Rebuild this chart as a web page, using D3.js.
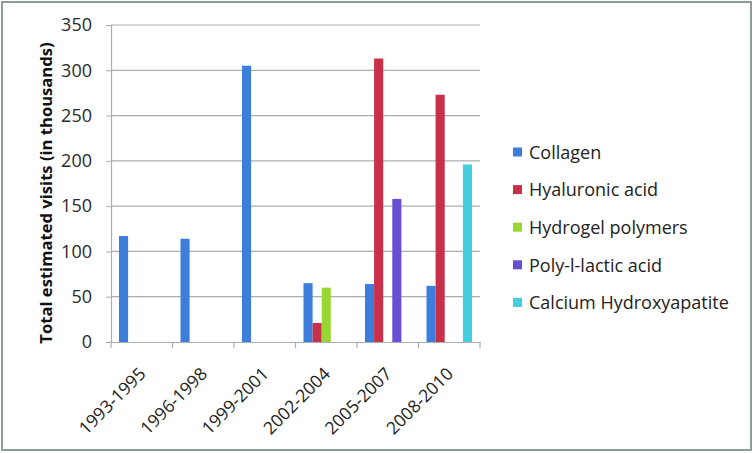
<!DOCTYPE html>
<html>
<head>
<meta charset="utf-8">
<script src="https://cdn.jsdelivr.net/npm/d3@7"></script>
<style>
  body { margin: 0; background: #fff; }
  svg { display: block; font-family: "Open Sans", "Noto Sans", sans-serif; }
</style>
</head>
<body>
<svg id="chart" width="753" height="453"></svg>
<script>
// Filler visits by period, Excel-style grouped bars
const periods = ["1993-1995", "1996-1998", "1999-2001", "2002-2004", "2005-2007", "2008-2010"];
const seriesNames = ["Collagen", "Hyaluronic acid", "Hydrogel polymers", "Poly-l-lactic acid", "Calcium Hydroxyapatite"];
const collagen = [117, 114, 305, 65, 64, 62];
const hyaluronic = [0, 0, 0, 21, 313, 273];
const hydrogel = [0, 0, 0, 60, 0, 0];
const polyLactic = [0, 0, 0, 0, 158, 0];
const calcium = [0, 0, 0, 0, 0, 196];
const yTicks = [0, 50, 100, 150, 200, 250, 300, 350];

const seriesValues = [collagen, hyaluronic, hydrogel, polyLactic, calcium];
const colors = ["#3d7edc", "#c8304a", "#98d633", "#6a4fd4", "#45cedd"];

const svg = d3.select("#chart");

// outer frame
svg.append("rect")
  .attr("x", 2).attr("y", 2).attr("width", 749).attr("height", 448)
  .attr("fill", "none").attr("stroke", "#8e9c9c").attr("stroke-width", 2);

const plot = { left: 111, top: 25, right: 480, bottom: 342 };

const x0 = d3.scaleBand().domain(periods).range([plot.left, plot.right]).paddingInner(0).paddingOuter(0);
const x1 = d3.scaleBand().domain(seriesNames).range([8, x0.bandwidth() - 8]);
const y = d3.scaleLinear().domain([0, 350]).range([plot.bottom, plot.top]);

// grid lines
svg.append("g")
  .selectAll("line")
  .data(yTicks.slice(1))
  .join("line")
  .attr("x1", plot.left).attr("x2", plot.right)
  .attr("y1", d => y(d)).attr("y2", d => y(d))
  .attr("stroke", "#a9afaf").attr("stroke-width", 1.2);

// bars
const rows = [];
periods.forEach((p, i) => {
  seriesNames.forEach((s, j) => {
    if (seriesValues[j][i] > 0) rows.push({ period: p, series: s, value: seriesValues[j][i], color: colors[j] });
  });
});

svg.append("g")
  .selectAll("rect")
  .data(rows)
  .join("rect")
  .attr("x", d => x0(d.period) + x1(d.series))
  .attr("y", d => y(d.value))
  .attr("width", x1.bandwidth())
  .attr("height", d => y(0) - y(d.value))
  .attr("fill", d => d.color);

// y axis
const yAxis = svg.append("g")
  .attr("transform", `translate(${plot.left},0)`)
  .call(d3.axisLeft(y).tickValues(yTicks).tickSize(5).tickPadding(14))
  .attr("font-family", null);
yAxis.select(".domain").attr("stroke", "#a9afaf").attr("stroke-width", 1.2);
yAxis.selectAll(".tick line").attr("stroke", "#a9afaf");
yAxis.selectAll(".tick text")
  .style("font-size", "18px")
  .style("fill", "#2a2a2a");

// x axis
const xAxis = svg.append("g")
  .attr("transform", `translate(0,${plot.bottom})`)
  .call(d3.axisBottom(x0).tickSize(0).tickPadding(0))
  .attr("font-family", null);
xAxis.select(".domain").attr("stroke", "#a9afaf").attr("stroke-width", 1.2);
xAxis.selectAll(".tick text")
  .attr("text-anchor", "end")
  .attr("x", 0).attr("y", 0)
  .attr("dy", "0")
  .attr("transform", "translate(5,33) rotate(-45)")
  .style("font-size", "17.5px")
  .style("fill", "#222");

// category boundary ticks
svg.append("g")
  .selectAll("line")
  .data(periods.map(p => x0(p)).concat([plot.right]))
  .join("line")
  .attr("x1", d => d).attr("x2", d => d)
  .attr("y1", plot.bottom).attr("y2", plot.bottom + 6)
  .attr("stroke", "#a9afaf").attr("stroke-width", 1.2);

// y axis title
svg.append("text")
  .attr("transform", `translate(52,193) rotate(-90)`)
  .attr("text-anchor", "middle")
  .style("font-size", "16.6px")
  .style("font-weight", "bold")
  .style("fill", "#111")
  .text("Total estimated visits (in thousands)");

// legend
const legend = svg.append("g")
  .selectAll("g")
  .data(seriesNames)
  .join("g")
  .attr("transform", (d, i) => `translate(513,${152.5 + i * 37.6})`);

legend.append("rect")
  .attr("x", 0).attr("y", -5).attr("width", 9).attr("height", 9)
  .attr("fill", (d, i) => colors[i]);

legend.append("text")
  .attr("x", 16).attr("y", 0)
  .attr("dy", "0.35em")
  .style("font-size", "18px")
  .style("fill", "#222")
  .text(d => d);
</script>
</body>
</html>
